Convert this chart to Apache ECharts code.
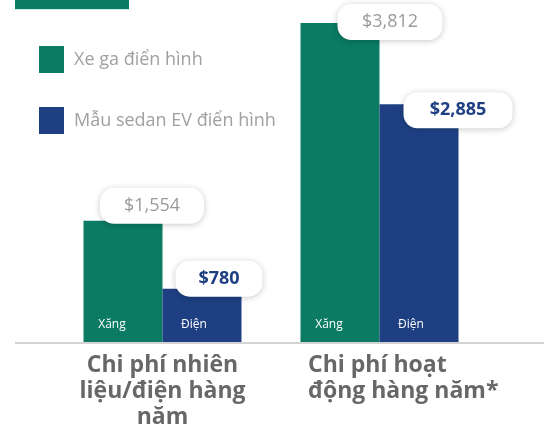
<!DOCTYPE html>
<html>
<head>
<meta charset="utf-8">
<script src="https://cdn.jsdelivr.net/npm/echarts@6/dist/echarts.min.js"></script>
<style>
html, body { margin: 0; padding: 0; background: #fff; }
#chart { width: 544px; height: 426px; }
</style>
</head>
<body>
<div id="chart"></div>
<script>
// data
const categories = ['Chi phí nhiên\nliệu/điện hàng\nnăm', 'Chi phí hoạt\nđộng hàng năm*']
const seriesNames = ['Xe ga điển hình', 'Mẫu sedan EV điển hình']
const gasValues = [1554, 3812]
const evValues = [780, 2885]
const barTags = ['Xăng', 'Điện']

const GREEN = '#0b7b63'
const BLUE = '#1e4083'
const FONT = 'Open Sans'

// label box placement, per bar
const gasLabelOffsets = [[29, 3], [50, 17]]
const evLabelOffsets = [[17, 8], [39, 24]]
const gasLabelWidths = [104, 105]
const evLabelWidths = [87, 109]

const money = v => '$' + v.toLocaleString('en-US')

const boxLabel = {
  show: true,
  position: 'top',
  distance: 0,
  formatter: p => money(p.value),
  backgroundColor: '#fff',
  borderRadius: 14,
  height: 36,
  lineHeight: 36,
  align: 'center',
  fontFamily: FONT,
  fontSize: 18,
  shadowColor: 'rgba(0,0,0,0.22)',
  shadowBlur: 6,
  shadowOffsetY: 1
}

const tagLabel = (name, dx) => ({
  show: true,
  position: 'insideBottom',
  distance: 12,
  offset: [dx, 0],
  formatter: name,
  color: '#fff',
  fontFamily: FONT,
  fontSize: 12
})

const catFont = {
  color: '#676767',
  fontFamily: FONT,
  fontSize: 23,
  fontWeight: 'bold',
  lineHeight: 26
}

let chart = echarts.init(document.getElementById('chart'))

let option = {
  animation: false,
  grid: { left: 54, right: 56, top: 23, bottom: 83, outerBoundsMode: 'none', containLabel: false },
  legend: {
    orient: 'vertical',
    left: 39,
    top: 46,
    padding: 0,
    itemWidth: 25,
    itemHeight: 27,
    itemGap: 34,
    icon: 'rect',
    data: seriesNames,
    textStyle: { color: '#a0a0a0', fontFamily: FONT, fontSize: 18, padding: [0, 0, 0, 5] }
  },
  xAxis: [
    {
      type: 'category',
      data: categories,
      axisLine: { show: false },
      axisTick: { show: false },
      axisLabel: Object.assign({
        interval: 0,
        margin: 9,
        hideOverlap: false,
        formatter: (val, idx) => idx === 1
          ? val.split('\n').map(l => '{l|' + l + '}').join('\n')
          : val,
        rich: {
          l: Object.assign({ width: 184, align: 'left', padding: [0, 0, 0, 41] }, catFont)
        }
      }, catFont)
    },
    { type: 'category', data: categories, show: false }
  ],
  yAxis: {
    type: 'value',
    min: 160,
    max: 3812,
    show: false,
    splitLine: { show: false }
  },
  graphic: [
    { type: 'rect', shape: { x: 15, y: 0, width: 114, height: 9 }, style: { fill: GREEN } },
    { type: 'line', shape: { x1: 15, y1: 9.5, x2: 129, y2: 9.5 }, style: { stroke: '#cdeee6', lineWidth: 1 } },
    { type: 'line', z: 100, shape: { x1: 15, y1: 343, x2: 544, y2: 343 }, style: { stroke: '#d3d3d3', lineWidth: 2 } }
  ],
  series: [
    {
      name: seriesNames[0],
      type: 'bar',
      barWidth: 79,
      barGap: 0,
      itemStyle: { color: GREEN },
      data: gasValues.map((v, i) => ({
        value: v,
        label: { offset: gasLabelOffsets[i], width: gasLabelWidths[i] }
      })),
      label: Object.assign({}, boxLabel, { color: '#9a9a9a' })
    },
    {
      name: seriesNames[1],
      type: 'bar',
      barWidth: 79,
      barGap: 0,
      itemStyle: { color: BLUE },
      data: evValues.map((v, i) => ({
        value: v,
        label: { offset: evLabelOffsets[i], width: evLabelWidths[i] }
      })),
      label: Object.assign({}, boxLabel, { color: BLUE, fontWeight: 'bold' })
    },
    // transparent copies on a hidden axis, only to carry the inside tags
    {
      name: 'tagGas',
      type: 'bar',
      xAxisIndex: 1,
      barWidth: 79,
      barGap: 0,
      silent: true,
      itemStyle: { color: 'rgba(0,0,0,0)' },
      data: gasValues,
      label: tagLabel(barTags[0], -11)
    },
    {
      name: 'tagEv',
      type: 'bar',
      xAxisIndex: 1,
      barWidth: 79,
      barGap: 0,
      silent: true,
      itemStyle: { color: 'rgba(0,0,0,0)' },
      data: evValues,
      label: tagLabel(barTags[1], -8)
    }
  ]
}

chart.setOption(option)
</script>
</body>
</html>
